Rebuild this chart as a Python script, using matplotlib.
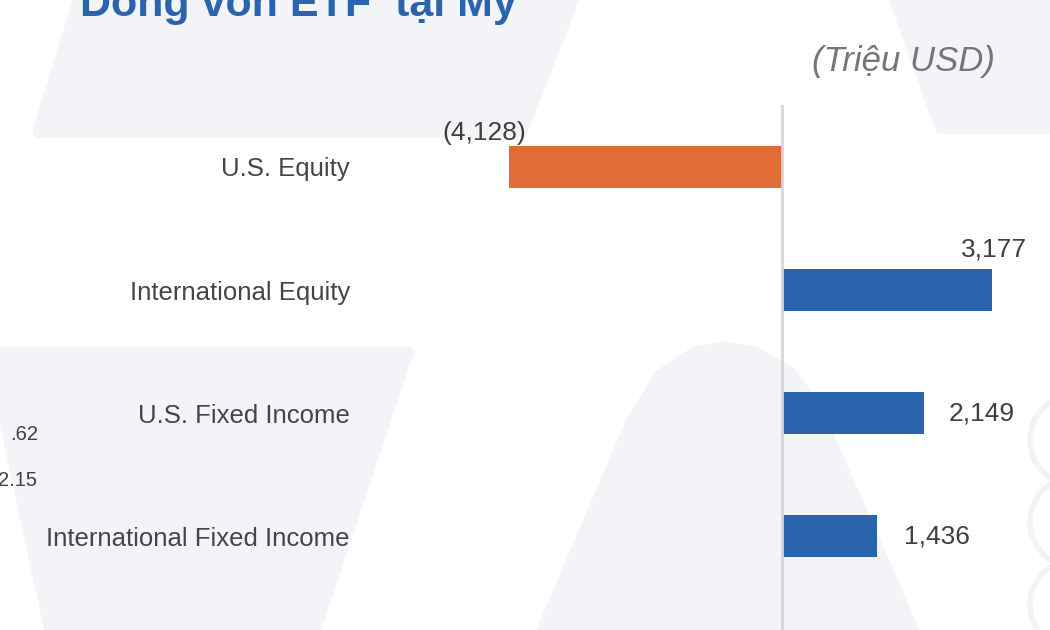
import matplotlib.pyplot as plt
from matplotlib.patches import Polygon, Circle

plt.rcParams['font.family'] = ['Liberation Sans', 'DejaVu Sans']

categories = ['U.S. Equity', 'International Equity', 'U.S. Fixed Income',
              'International Fixed Income']
values = [-4128, 3177, 2149, 1436]
value_labels = ['(4,128)', '3,177', '2,149', '1,436']
title = 'Dòng vốn ETF  tại Mỹ'
unit = '(Triệu USD)'
stray_texts = ['.62', '2.15']

W, H = 1050, 630
fig = plt.figure(figsize=(10.5, 6.3), dpi=100)
fig.patch.set_facecolor('white')

# background watermark shapes, drawn in pixel coords
bg = fig.add_axes([0, 0, 1, 1], zorder=-1)
bg.set_xlim(0, W)
bg.set_ylim(H, 0)
bg.axis('off')

shade = '#f2f4f8'
shapes = [
    [(80, -5), (575, -5), (522, 132), (38, 132)],
    [(893, -5), (1060, -5), (1060, 128), (940, 128)],
    [(-10, 352), (408, 352), (312, 640), (52, 640)],
    [(538, 640), (632, 420), (660, 375), (695, 352), (725, 347), (755, 352),
     (790, 372), (815, 405), (918, 640)],
]
for s in shapes:
    bg.add_patch(Polygon(s, closed=True, facecolor=shade, edgecolor=shade,
                         lw=8, joinstyle='round'))
for cy in [440, 522, 605]:
    bg.add_patch(Circle((1075, cy), 45, facecolor='white', edgecolor='#f3f3f5', lw=4))

ax = fig.add_axes([370 / W, 0, 1 - 370 / W, 1 - 105 / H], zorder=1)
ax.set_facecolor('none')

ppu = 0.0662
ax.set_xlim(-(782 - 370) / ppu, (1050 - 782) / ppu)
ax.set_ylim(3.764, -0.504)

y = list(range(len(categories)))
colors = ['#e06c37' if v < 0 else '#2a64ad' for v in values]
ax.barh(y, values, height=0.34, color=colors, zorder=3)
ax.axvline(0, color='#d6d6d6', lw=2, zorder=4)

ax.set_yticks(y, categories)
ax.tick_params(axis='y', length=0, pad=14.4, labelsize=18.5, labelcolor='#454545')
ax.set_xticks([])
for sp in ax.spines.values():
    sp.set_visible(False)

# label offsets in pixels (manually placed in the original)
offsets = [(-24, 34, 'center'), (2, 41, 'center'), (24, 0, 'left'), (27, 0, 'left')]
for i, (v, lab) in enumerate(zip(values, value_labels)):
    dx, dy, ha = offsets[i]
    ax.annotate(lab, (v, i), xytext=(dx, dy), textcoords='offset pixels',
                ha=ha, va='center', fontsize=19, color='#404040', zorder=4)

fig.text(80 / W, 1 - 16 / H, title, fontsize=31, fontweight='bold',
         color='#2a64ae', ha='left', va='baseline')
fig.text(812 / W, 1 - 62 / H, unit, fontsize=25, fontstyle='italic',
         color='#767676', ha='left', va='center')

fig.text(10 / W, 1 - 435 / H, stray_texts[0], fontsize=14.5, color='#404040',
         ha='left', va='center')
fig.text(-2 / W, 1 - 481 / H, stray_texts[1], fontsize=14.5, color='#404040',
         ha='left', va='center')

fig.savefig('out.png', dpi=100)
